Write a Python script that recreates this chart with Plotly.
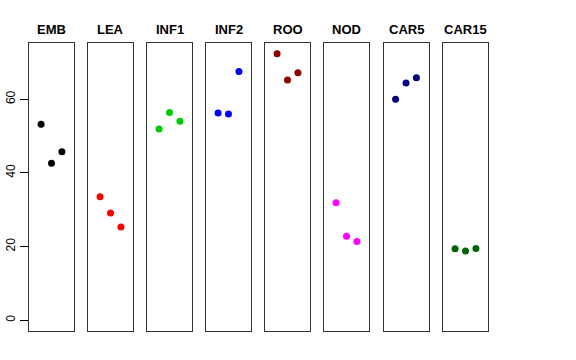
import plotly.graph_objects as go

categories = ["EMB", "LEA", "INF1", "INF2", "ROO", "NOD", "CAR5", "CAR15"]
colors = ["#000000", "#FF0000", "#00CD00", "#0000FF", "#8B0000", "#FF00FF", "#000080", "#006400"]
positions = [1, 2, 3]
values = {
    "EMB": [53.2, 42.6, 45.75],
    "LEA": [33.5, 29.1, 25.3],
    "INF1": [51.9, 56.4, 54.0],
    "INF2": [56.25, 56.0, 67.5],
    "ROO": [72.35, 65.2, 67.2],
    "NOD": [31.9, 22.8, 21.4],
    "CAR5": [60.0, 64.4, 65.8],
    "CAR15": [19.4, 18.8, 19.5],
}
ytick_vals = [0, 20, 40, 60]

W, H = 576, 360
panel_left = [29, 88, 147, 206, 265, 324, 383.5, 443]
panel_w = 45
ytop, ybot = 43, 331

fig = go.Figure()
layout = {}
annotations = []
for i, cat in enumerate(categories):
    n = "" if i == 0 else str(i + 1)
    fig.add_trace(go.Scatter(
        x=positions, y=values[cat], mode="markers",
        marker=dict(color=colors[i], size=7),
        xaxis="x" + n, yaxis="y" + n, showlegend=False, hoverinfo="skip"))
    x0 = panel_left[i] / W
    x1 = (panel_left[i] + panel_w) / W
    layout["xaxis" + n] = dict(domain=[x0, x1], range=[-0.16, 4.16], showticklabels=False,
                               ticks="", showgrid=False, zeroline=False, showline=True,
                               mirror=True, linecolor="#333333", linewidth=1,
                               anchor="y" + n, fixedrange=True, automargin=False)
    ya = dict(domain=[1 - ybot / H, 1 - ytop / H], range=[-2.9, 75.25], showgrid=False,
              zeroline=False, showline=True, mirror=True, linecolor="#333333", linewidth=1,
              anchor="x" + n, automargin=False, fixedrange=True)
    if i == 0:
        ya.update(tickvals=ytick_vals, ticks="outside", ticklen=8, tickcolor="#000000",
                  tickangle=-90, tickfont=dict(family="Liberation Sans", size=12, color="#000000"))
    else:
        ya.update(showticklabels=False, ticks="", matches="y")
    layout["yaxis" + n] = ya
    annotations.append(dict(text="<b>%s</b>" % cat, x=(panel_left[i] + panel_w / 2) / W,
                            y=1 - 29.5 / H, xref="paper", yref="paper", showarrow=False,
                            xanchor="center", yanchor="middle",
                            font=dict(family="Liberation Sans", size=13, color="#000000")))

fig.update_layout(**layout)
fig.update_layout(width=W, height=H, margin=dict(l=0, r=0, t=0, b=0, pad=0),
                  plot_bgcolor="white", paper_bgcolor="white", annotations=annotations)
fig.write_html("out.html", config={"displayModeBar": False},
               post_script="document.body.style.margin='0';")
